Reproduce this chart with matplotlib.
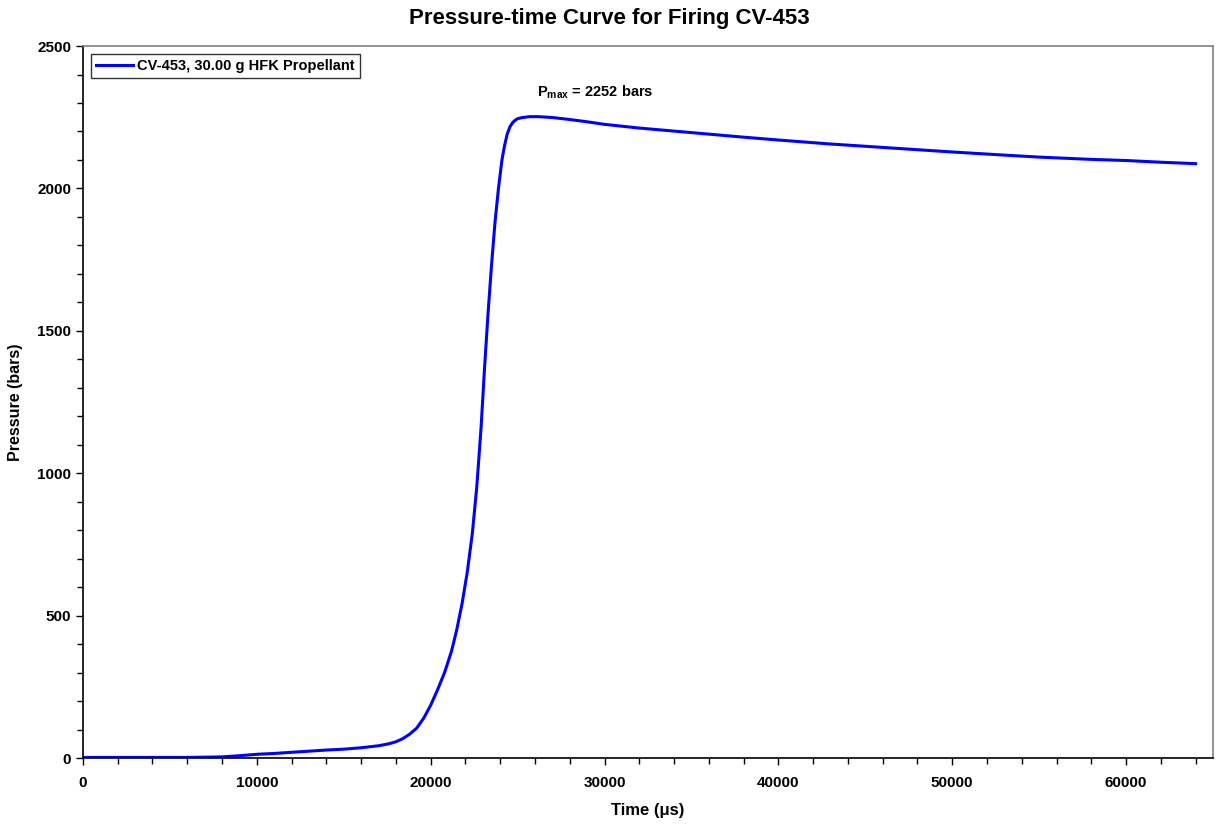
import numpy as np
import matplotlib.pyplot as plt
from matplotlib.ticker import MultipleLocator

plt.rcParams['font.family'] = ['Liberation Sans', 'DejaVu Sans']
plt.rcParams['font.weight'] = 'bold'
plt.rcParams['mathtext.fontset'] = 'custom'
plt.rcParams['mathtext.rm'] = 'Liberation Sans:bold'
plt.rcParams['mathtext.bf'] = 'Liberation Sans:bold'

# Pressure-time data (time in microseconds, pressure in bars)
time_us = [0, 2000, 4000, 6000, 7000, 8000, 9000, 10000, 11000, 12000, 13000,
           14000, 15000, 16000, 17000, 17600, 18000, 18400, 18800, 19200, 19600,
           20000, 20400, 20800, 21200, 21500, 21800, 22100, 22400, 22650, 22900,
           23100, 23300, 23500, 23700, 23900, 24100, 24250, 24400, 24550, 24700,
           24850, 25000, 25300, 25700, 26200, 27000, 28000, 29000, 30000, 32000,
           35000, 38000, 40000, 43000, 45000, 48000, 50000, 53000, 55000, 58000,
           60000, 62000, 64000]
pressure_bar = [2, 2, 2, 2, 3, 4, 8, 13, 16, 20, 24, 28, 31, 36, 43, 50, 57, 68,
                84, 105, 140, 185, 240, 300, 375, 450, 540, 650, 790, 950, 1160,
                1370, 1560, 1730, 1880, 2000, 2100, 2150, 2190, 2215, 2230, 2239,
                2245, 2249, 2252, 2252, 2249, 2242, 2234, 2225, 2212, 2196, 2180,
                2170, 2156, 2148, 2136, 2128, 2117, 2110, 2102, 2098, 2092, 2087]

p_max = 2252

fig = plt.figure(figsize=(12.18, 8.25), dpi=100)
ax = fig.add_axes([0.0681, 0.0812, 0.9278, 0.863])

ax.plot(time_us, pressure_bar, color='#0000FF', lw=2.2,
        label='CV-453, 30.00 g HFK Propellant')

ax.set_xlim(0, 65000)
ax.set_ylim(0, 2500)
ax.xaxis.set_major_locator(MultipleLocator(10000))
ax.xaxis.set_minor_locator(MultipleLocator(2000))
ax.yaxis.set_major_locator(MultipleLocator(500))
ax.yaxis.set_minor_locator(MultipleLocator(100))
ax.tick_params(which='both', direction='out', labelsize=11, color='black')
ax.tick_params(which='major', length=5, width=1)
ax.tick_params(which='minor', length=4, width=1)
ax.tick_params(axis='x', pad=8)
for lab in ax.get_xticklabels() + ax.get_yticklabels():
    lab.set_fontweight('bold')

for s in ['top', 'right']:
    ax.spines[s].set_color('#808080')
    ax.spines[s].set_linewidth(1.2)
for s in ['left', 'bottom']:
    ax.spines[s].set_color('black')
    ax.spines[s].set_linewidth(1.2)

ax.set_xlabel('Time (\u03bcs)', fontsize=12, fontweight='bold', labelpad=9)
ax.set_ylabel('Pressure (bars)', fontsize=11.5, fontweight='bold', labelpad=10)
fig.suptitle('Pressure-time Curve for Firing CV-453', fontsize=16,
             fontweight='bold', y=0.99)

ax.text(29450, 2338, r'P$_{\mathregular{max}}$ = %d bars' % p_max,
        ha='center', va='center', fontsize=10.5, fontweight='bold')

leg = ax.legend(loc='upper left', fontsize=10.5, frameon=True, fancybox=False,
                borderpad=0.35, handlelength=2.5, handletextpad=0.3,
                borderaxespad=0.55)
leg.get_frame().set_edgecolor('black')
leg.get_frame().set_linewidth(1.0)
for t in leg.get_texts():
    t.set_fontweight('bold')

fig.savefig('out.png', dpi=100)
